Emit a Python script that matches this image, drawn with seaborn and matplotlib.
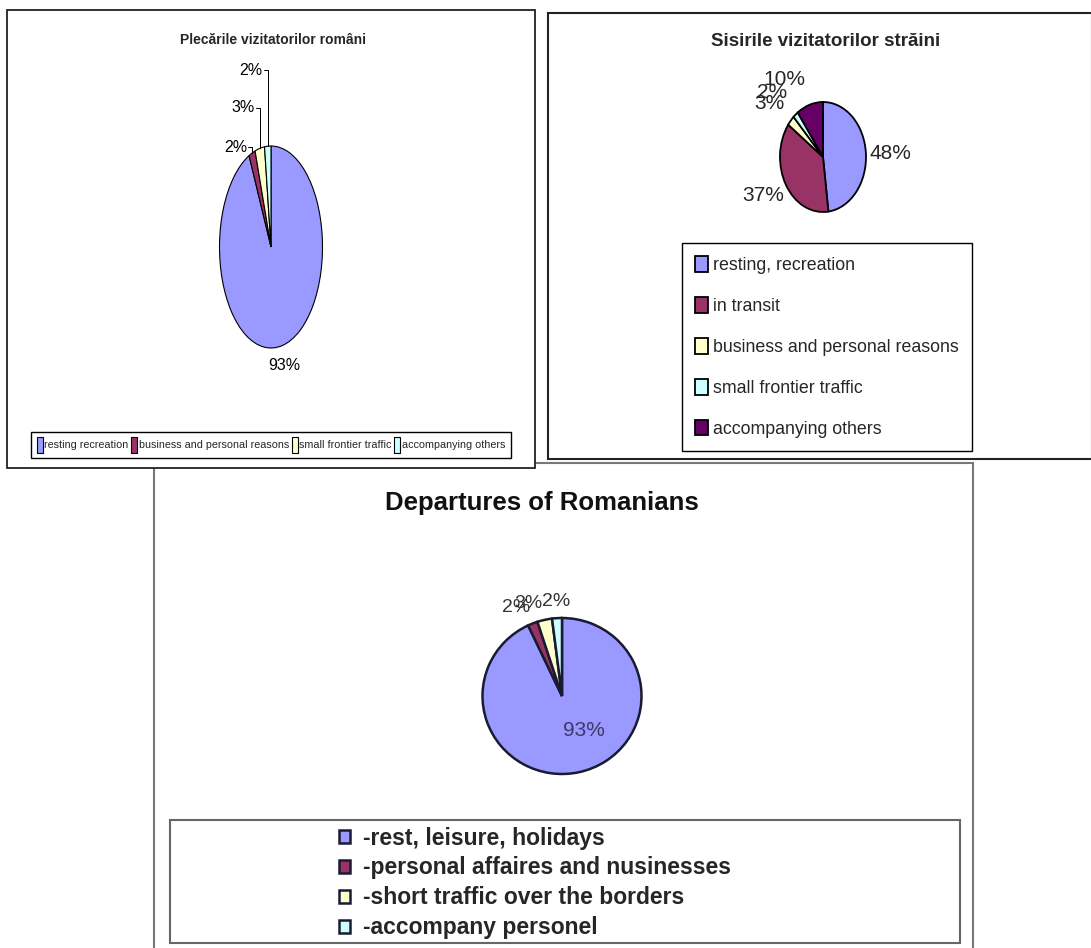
import numpy as np
import matplotlib
matplotlib.use("Agg")
import matplotlib.pyplot as plt
from matplotlib.patches import Rectangle
from matplotlib import font_manager as fm
import seaborn as sns

# ---------------- data ----------------
title_ro = "Plecările vizitatorilor români"
cats_ro = ["resting recreation", "business and personal reasons",
           "small frontier traffic", "accompanying others"]
vals_ro = [93, 2, 3, 2]

title_fr = "Sisirile vizitatorilor străini"
cats_fr = ["resting, recreation", "in transit", "business and personal reasons",
           "small frontier traffic", "accompanying others"]
vals_fr = [48, 37, 3, 2, 10]

title_dep = "Departures of Romanians"
cats_dep = ["-rest, leisure, holidays", "-personal affaires and nusinesses",
            "-short traffic over the borders", "-accompany personel"]
vals_dep = [93, 2, 3, 2]

col_blue, col_maroon, col_yellow, col_cyan, col_purple = (
    "#9999FF", "#993366", "#FFFFCC", "#CCFFFF", "#660066")
pal_ro = sns.color_palette([col_blue, col_maroon, col_yellow, col_cyan])
pal_fr = sns.color_palette([col_blue, col_maroon, col_yellow, col_cyan, col_purple])
pal_dep = sns.color_palette([col_blue, col_maroon, col_yellow, col_cyan])

# ---------------- style ----------------
sns.set_theme(style="white")
plt.rcParams["font.family"] = ["Liberation Sans", "DejaVu Sans"]
avail = {f.name for f in fm.fontManager.ttflist}
NARROW = "Liberation Sans Narrow" if "Liberation Sans Narrow" in avail else "Liberation Sans"

W, H = 1091, 948
fig = plt.figure(figsize=(W / 100, H / 100), dpi=100)
fig.patch.set_facecolor("white")
renderer = fig.canvas.get_renderer()


def fx(x):
    return x / W


def fy(y):
    return 1 - y / H


def frame(x0, y0, x1, y1, ec="black", lw=1.3, z=-2):
    fig.add_artist(Rectangle((fx(x0), fy(y1)), (x1 - x0) / W, (y1 - y0) / H,
                             transform=fig.transFigure, facecolor="white",
                             edgecolor=ec, linewidth=lw, zorder=z))


def pie_ax(cx, cy, rx, ry, L=1.06):
    ax = fig.add_axes([fx(cx - rx * L), fy(cy + ry * L), 2 * rx * L / W, 2 * ry * L / H])
    return ax, L


def finish(ax, L):
    ax.set_aspect("auto")
    ax.set_xlim(-L, L)
    ax.set_ylim(-L, L)
    ax.set_axis_off()


def mid(w):
    a = np.deg2rad((w.theta1 + w.theta2) / 2)
    return np.cos(a), np.sin(a)


def align(c, s, thr=0.2):
    ha = "left" if c > thr else ("right" if c < -thr else "center")
    va = "bottom" if s > 0.3 else ("top" if s < -0.3 else "center")
    return ha, va


# ---------------- panel frames ----------------
frame(154, 463, 973, 950, ec="#777777", lw=1.5, z=-4)
frame(7, 10, 535, 468, ec="#222222", lw=1.3, z=-2)
frame(548, 13, 1092, 459, ec="#222222", lw=1.5, z=-2)

# ---------------- panel 1 ----------------
fig.text(fx(273), fy(40), title_ro, ha="center", va="center",
         fontsize=10, fontweight="bold", family=[NARROW, "DejaVu Sans"])
ax1, L1 = pie_ax(271, 247, 51.5, 101)
w1, _ = ax1.pie(vals_ro, colors=pal_ro, startangle=90, counterclock=False,
                wedgeprops=dict(edgecolor="black", linewidth=0.8))
finish(ax1, L1)
lab_fp1 = dict(fontsize=11.5, family=[NARROW, "DejaVu Sans"], color="black")
c, s = mid(w1[0])
ax1.text(1.2 * c, 1.2 * s, f"{vals_ro[0]}%", ha="center", va="center",
         clip_on=False, **lab_fp1)
lead_y = [None, 0.99, 1.38, 1.75]
for i in range(1, len(vals_ro)):
    c, s = mid(w1[i])
    ly = lead_y[i]
    ax1.plot([c, c, c - 0.08], [s, ly, ly], color="black", lw=0.7, clip_on=False)
    ax1.text(c - 0.1, ly, f"{vals_ro[i]}%", ha="right", va="center",
             clip_on=False, **lab_fp1)

# single-row legend shrunk until it fits the box width of the reference
leg1 = None
for size in np.arange(9.5, 5.9, -0.25):
    if leg1 is not None:
        leg1.remove()
    leg1 = fig.legend(w1, cats_ro, ncol=4, loc="center", bbox_to_anchor=(fx(271), fy(445)),
                      prop=dict(family=[NARROW, "DejaVu Sans"], size=size),
                      handlelength=0.55, handleheight=1.9, handletextpad=0.15,
                      columnspacing=0.25, borderpad=0.5, frameon=True, fancybox=False,
                      edgecolor="black", framealpha=1)
    if leg1.get_window_extent(renderer).width <= 493:
        break
leg1.get_frame().set_linewidth(1.0)

# ---------------- panel 2 ----------------
fig.text(fx(826), fy(42), title_fr, ha="center", va="center",
         fontsize=13.5, fontweight="bold")
ax2, L2 = pie_ax(823, 157, 43, 55)
w2, _ = ax2.pie(vals_fr, colors=pal_fr, startangle=90, counterclock=False,
                wedgeprops=dict(edgecolor="black", linewidth=1.3))
finish(ax2, L2)
r2 = [1.08, 1.05, 1.2, 1.3, 1.3]
for w, v, r in zip(w2, vals_fr, r2):
    c, s = mid(w)
    ha, va = align(c, s)
    ax2.text(r * c, r * s, f"{v}%", ha=ha, va=va, fontsize=15,
             family=[NARROW, "DejaVu Sans"], clip_on=False)
leg2 = fig.legend(w2, cats_fr, loc="upper left", bbox_to_anchor=(fx(682), fy(243)),
                  borderaxespad=0, prop=dict(family=[NARROW, "DejaVu Sans"], size=12.8),
                  handlelength=0.7, handleheight=1.0, handletextpad=0.3,
                  labelspacing=1.28, borderpad=0.75, frameon=True, fancybox=False,
                  edgecolor="black", framealpha=1)
leg2.get_frame().set_linewidth(1.0)

# ---------------- panel 3 ----------------
fig.text(fx(542), fy(503), title_dep, ha="center", va="center",
         fontsize=18.5, fontweight="bold", color="#111111")
ax3, L3 = pie_ax(562, 696, 79.5, 78)
w3, _ = ax3.pie(vals_dep, colors=pal_dep, startangle=90, counterclock=False,
                wedgeprops=dict(edgecolor="#1a1a33", linewidth=1.8))
finish(ax3, L3)
c, s = mid(w3[0])
ax3.text(0.55 * c + 0.15, 0.55 * s + 0.1, f"{vals_dep[0]}%", ha="center", va="center",
         fontsize=15, color="#3a3a6a", clip_on=False)
for w, v in zip(w3[1:], vals_dep[1:]):
    c, s = mid(w)
    ha, va = align(c, s)
    ax3.text(1.1 * c, 1.1 * s, f"{v}%", ha=ha, va=va, fontsize=14,
             color="#333333", clip_on=False)
frame(170, 820, 960, 943, ec="#666666", lw=1.5, z=-1)
leg3 = fig.legend(w3, cats_dep, loc="upper left", bbox_to_anchor=(fx(334), fy(822)),
                  borderaxespad=0, prop=dict(weight="bold", size=16.5),
                  handlelength=0.5, handleheight=0.5, handletextpad=0.55,
                  labelspacing=0.3, borderpad=0.2, frameon=False)

fig.savefig("out.png", dpi=100, facecolor="white")
